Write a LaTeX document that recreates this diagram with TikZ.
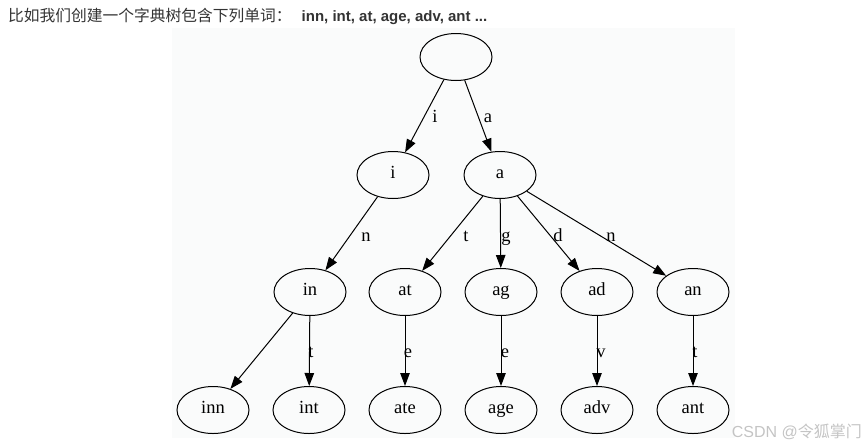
\documentclass[tikz,border=0pt]{standalone}
\usepackage{fontspec}
\setmainfont{Liberation Serif}
\newfontfamily\cjk{Noto Sans CJK SC}
\newfontfamily\arialfont{Liberation Sans}
\usetikzlibrary{arrows.meta, shapes.geometric}
\definecolor{panel}{HTML}{FAFBFB}
\definecolor{headgray}{HTML}{333333}
\definecolor{markgray}{HTML}{C4C4C4}

\begin{document}
\begin{tikzpicture}[x=1pt, y=-1pt,
  trie/.style={draw, ellipse, line width=1pt, minimum width=72pt, minimum height=47pt, inner sep=0pt,
    text height=0.88em, text depth=0.14em, font=\fontsize{18.5}{20}\selectfont},
  link/.style={line width=1pt, -{Triangle[length=13pt, width=9.5pt]}},
  letter/.style={font=\fontsize{18.5}{20}\selectfont, anchor=base, inner sep=0pt},
]
  \useasboundingbox (0,0) rectangle (867,445);
  \fill[panel] (172,28) rectangle (735,438);

  \node[anchor=base west, inner sep=0pt, color=headgray] (title) at (8,21)
    {\fontsize{15.75}{17}\selectfont\cjk 比如我们创建一个字典树包含下列单词：\hspace{10pt}{\fontsize{15}{17}\selectfont\arialfont\bfseries inn, int, at, age, adv, ant ...}};

  % trie nodes
  \node[trie] (root) at (456,57) {};
  \node[trie] (i) at (393,175) {i};
  \node[trie] (a) at (500,175) {a};

  \node[trie] (in) at (310,292) {in};
  \node[trie] (at) at (405,292) {at};
  \node[trie] (ag) at (501,292) {ag};
  \node[trie] (ad) at (597,292) {ad};
  \node[trie] (an) at (693,292) {an};

  \node[trie] (inn) at (213,410) {inn};
  \node[trie] (int) at (309,410) {int};
  \node[trie] (ate) at (405,410) {ate};
  \node[trie] (age) at (501,410) {age};
  \node[trie] (adv) at (597,410) {adv};
  \node[trie] (ant) at (693,410) {ant};

  % edges
  \draw[link] (root) -- (i);
  \draw[link] (root) -- (a);
  \draw[link] (i) -- (in);
  \draw[link] (a) -- (at);
  \draw[link] (a) -- (ag);
  \draw[link] (a) -- (ad);
  \draw[link] (a) -- (an);
  \draw[link] (in) -- (inn);
  \draw[link] (in) -- (int);
  \draw[link] (at) -- (ate);
  \draw[link] (ag) -- (age);
  \draw[link] (ad) -- (adv);
  \draw[link] (an) -- (ant);

  % edge letters
  \node[letter] (l-i) at (435,122) {i};
  \node[letter] (l-a) at (488,122) {a};
  \node[letter] (l-in) at (366,241) {n};
  \node[letter] (l-at) at (466,241) {t};
  \node[letter] (l-ag) at (506,241) {g};
  \node[letter] (l-ad) at (558,241) {d};
  \node[letter] (l-an) at (611,241) {n};
  \node[letter] (l-int) at (311,357) {t};
  \node[letter] (l-ate) at (408,357) {e};
  \node[letter] (l-age) at (505,357) {e};
  \node[letter] (l-adv) at (601,357) {v};
  \node[letter] (l-ant) at (695,357) {t};

  \node[anchor=base east, inner sep=0pt, color=markgray, font=\fontsize{16}{18}\selectfont\arialfont] (mark) at (862,437)
    {CSDN @{\cjk 令狐掌门}};
\end{tikzpicture}
\end{document}
